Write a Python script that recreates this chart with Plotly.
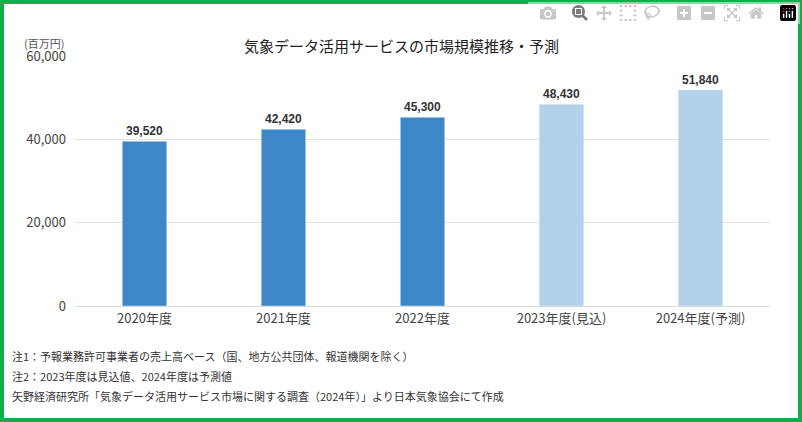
import plotly.graph_objects as go

years = ["2020年度", "2021年度", "2022年度", "2023年度(見込)", "2024年度(予測)"]
values = [39520, 42420, 45300, 48430, 51840]
colors = ["#3d87c9", "#3d87c9", "#3d87c9", "#b3d1e9", "#b3d1e9"]
notes = [
    "注1：予報業務許可事業者の売上高ベース（国、地方公共団体、報道機関を除く）",
    "注2：2023年度は見込値、2024年度は予測値",
    "矢野経済研究所「気象データ活用サービス市場に関する調査（2024年）」より日本気象協会にて作成",
]

W, H = 802, 422
L, R, T, B = 75, 32, 56, 116
pw, ph = W - L - R, H - T - B

def px(x):
    return (x - L) / pw

def py(y):
    return (H - B - y) / ph

font = "Noto Sans CJK JP"
fig = go.Figure(go.Bar(
    x=years, y=values, marker_color=colors, width=0.32,
    text=[f"<b>{v:,}</b>" for v in values], textposition="outside",
    textfont=dict(size=12, color="#333", family="Liberation Sans, " + font),
    cliponaxis=False,
))

fig.update_layout(
    width=W, height=H, margin=dict(l=L, r=R, t=T, b=B),
    paper_bgcolor="white", plot_bgcolor="white",
    font=dict(family=font, color="#444", size=12),
    showlegend=False,
    yaxis=dict(range=[0, 60000], tickvals=[0, 20000, 40000, 60000], tickformat=",",
               gridcolor="#e3e3e3", zeroline=False, ticks="", ticklabelstandoff=8,
               tickfont=dict(size=13)),
    xaxis=dict(showline=True, linecolor="#d9d9d9", ticks="", tickfont=dict(size=13)),
)

fig.add_annotation(text="気象データ活用サービスの市場規模推移・予測", xref="paper", yref="paper",
                   x=px(401), y=py(33), showarrow=False, font=dict(size=15, color="#222"))
fig.add_annotation(text="(百万円)", xref="paper", yref="paper", x=px(22), y=py(33),
                   xanchor="left", showarrow=False, font=dict(size=11, color="#555"))
for i, n in enumerate(notes):
    fig.add_annotation(text=n, xref="paper", yref="paper", x=px(10), y=py(366 + 20 * i),
                       xanchor="left", showarrow=False, font=dict(size=11, color="#333"))

fig.add_shape(type="rect", xref="paper", yref="paper",
              x0=px(2), x1=px(800), y0=py(420), y1=py(2),
              line=dict(color="#0db04b", width=4))

fig.write_html("out.html", post_script="document.body.style.margin='0';")
